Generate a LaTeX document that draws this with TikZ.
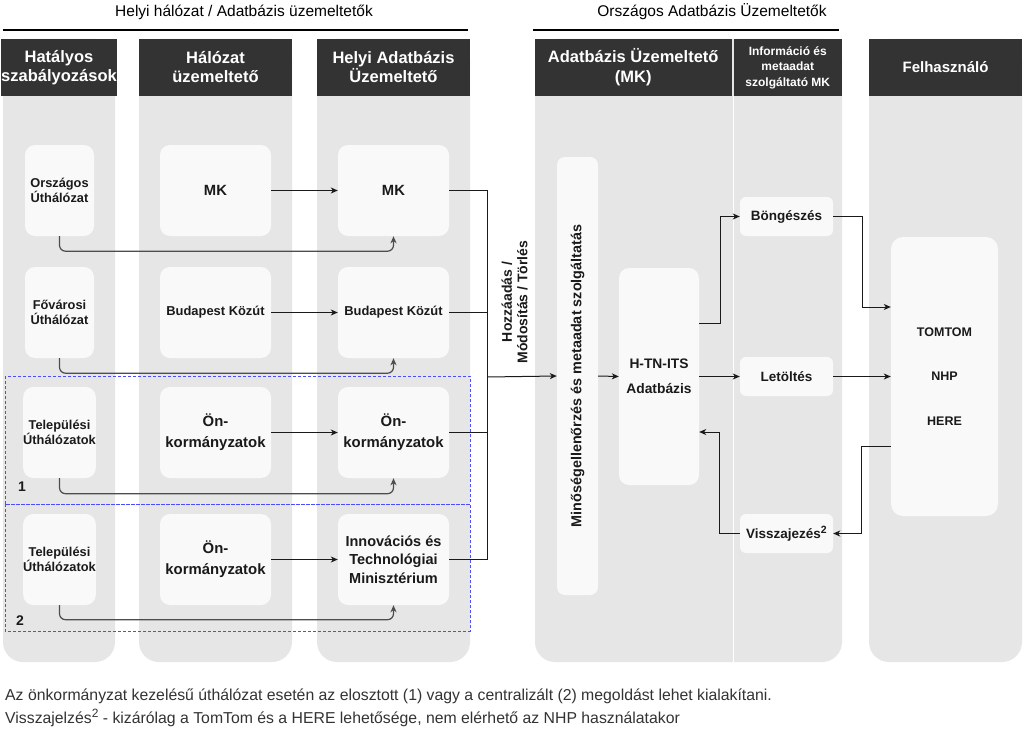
\documentclass[tikz,border=0pt]{standalone}
\usepackage{fontspec}
\setmainfont{Liberation Sans}
\usetikzlibrary{arrows.meta,calc}
\definecolor{lanebg}{HTML}{E6E6E6}
\definecolor{hdr}{HTML}{333333}
\definecolor{boxbg}{HTML}{F9F9F9}
\definecolor{txt}{HTML}{1A1A1A}
\definecolor{curvcol}{HTML}{4D4D4D}
\definecolor{grpblue}{HTML}{4D4DFF}
\newcommand{\fsz}[2]{\fontsize{#1}{#2}\selectfont}
\newcommand{\supnum}[2]{\raisebox{#2}{\fontsize{#1}{#1}\selectfont 2}}
\begin{document}
\begin{tikzpicture}[x=1pt,y=-1pt,
 lane/.style={fill=lanebg, rounded corners=20pt},
 hdrbox/.style={fill=hdr, text=white, align=center, inner sep=0},
 box/.style={fill=boxbg, rounded corners=10pt, inner sep=0, align=center, text=txt},
 sbox/.style={fill=boxbg, rounded corners=6pt, inner sep=0, align=center, text=txt},
 arr/.style={draw=txt, line width=1pt, -{Stealth[length=7pt,width=6pt,inset=2pt]}},
 ln/.style={draw=txt, line width=1pt},
 curv/.style={draw=curvcol, line width=1.2pt, rounded corners=6pt, -{Stealth[length=7pt,width=6pt,inset=2pt]}},
 grp/.style={draw=grpblue, dash pattern=on 3pt off 2pt, line width=1pt},
 ttl/.style={text=txt, inner sep=0},
]
\useasboundingbox (0,0) rectangle (1024,733);
\fill[white] (0,0) rectangle (1024,733);

% titles
\node[ttl, text=black, font=\fsz{15.5}{18}] (t1) at (244,12) {Helyi hálózat / Adatbázis üzemeltetők};
\node[ttl, text=black, font=\fsz{15.5}{18}] (t2) at (712,12) {Országos Adatbázis Üzemeltetők};
\draw[line width=2pt, black] (3,30) -- (468,30);
\draw[line width=2pt, black] (533,30) -- (839,30);

% lanes
\fill[lane] (3,39) rectangle (115,662);
\fill[lane] (139,39) rectangle (292,662);
\fill[lane] (317,39) rectangle (470,662);
\fill[lane] (535,39) rectangle (842,662);
\fill[lane] (869,39) rectangle (1022,662);
\draw[white, line width=1.2pt] (733.5,96) -- (733.5,662);

% headers
\node[hdrbox, minimum width=112, minimum height=57, font=\bfseries\fsz{16.5}{19}] (h1) at (59,67.5) {Hatályos\\szabályozások};
\node[hdrbox, minimum width=153, minimum height=57, font=\bfseries\fsz{16.5}{19}] (h2) at (215.5,67.5) {Hálózat\\üzemeltető};
\node[hdrbox, minimum width=153, minimum height=57, font=\bfseries\fsz{16.5}{19}] (h3) at (393.5,67.5) {Helyi Adatbázis\\Üzemeltető};
\node[hdrbox, minimum width=197.5, minimum height=57, font=\bfseries\fsz{16.5}{20}] (h4) at (633.25,67.5) {Adatbázis Üzemeltető\\(MK)};
\node[hdrbox, minimum width=107.5, minimum height=57, font=\bfseries\fsz{12}{15.5}] (h5) at (787.75,67.5) {Információ és\\metaadat\\szolgáltató MK};
\node[hdrbox, minimum width=153, minimum height=57, font=\bfseries\fsz{15}{18}] (h6) at (945.5,67.5) {Felhasználó};

% group frames
\draw[grp] (5,376) rectangle (470,504);
\draw[grp] (5,504) rectangle (470,631);
\node[ttl, font=\bfseries\fsz{14}{16}] (n1) at (22,487) {1};
\node[ttl, font=\bfseries\fsz{14}{16}] (n2) at (20,621) {2};

% lane 1 boxes
\node[box, minimum width=69, minimum height=91, font=\bfseries\fsz{12.8}{15}] (ou) at (59.5,190.5) {Országos\\Úthálózat};
\node[box, minimum width=69, minimum height=91, font=\bfseries\fsz{12.8}{15}] (fu) at (59.5,312.5) {Fővárosi\\Úthálózat};
\node[box, minimum width=69, minimum height=91, font=\bfseries\fsz{12.8}{15}] (tu1) at (59.5,432.5) {Települési\\Úthálózatok};
\node[box, minimum width=69, minimum height=91, font=\bfseries\fsz{12.8}{15}] (tu2) at (59.5,559.5) {Települési\\Úthálózatok};

% lane 2 boxes
\node[box, minimum width=111, minimum height=91, font=\bfseries\fsz{14.8}{18}] (mk1) at (215.5,190.5) {MK};
\node[box, minimum width=111, minimum height=91, font=\bfseries\fsz{12.9}{15}] (bk1) at (215.5,312.5) {Budapest Közút};
\node[box, minimum width=111, minimum height=91, font=\bfseries\fsz{14.9}{21}] (on1) at (215.5,432.5) {Ön-\\kormányzatok};
\node[box, minimum width=111, minimum height=91, font=\bfseries\fsz{14.9}{21}] (on3) at (215.5,559.5) {Ön-\\kormányzatok};

% lane 3 boxes
\node[box, minimum width=111, minimum height=91, font=\bfseries\fsz{14.8}{18}] (mk2) at (393.5,190.5) {MK};
\node[box, minimum width=111, minimum height=91, font=\bfseries\fsz{12.9}{15}] (bk2) at (393.5,312.5) {Budapest Közút};
\node[box, minimum width=111, minimum height=91, font=\bfseries\fsz{14.9}{21}] (on2) at (393.5,432.5) {Ön-\\kormányzatok};
\node[box, minimum width=111, minimum height=91, font=\bfseries\fsz{14.5}{18.5}] (itm) at (393.5,559.5) {Innovációs és\\Technológiai\\Minisztérium};

% lane 2 -> lane 3
\draw[arr] (mk1) -- (mk2);
\draw[arr] (bk1) -- (bk2);
\draw[arr] (on1) -- (on2);
\draw[arr] (on3) -- (itm);

% lane 1 -> lane 3 curved
\draw[curv] (ou.south) -- ++(0,15) -| (mk2.south);
\draw[curv] (fu.south) -- ++(0,15) -| (bk2.south);
\draw[curv] (tu1.south) -- ++(0,15.5) -| (on2.south);
\draw[curv] (tu2.south) -- ++(0,14.5) -| (itm.south);

% national lane boxes
\node[box, rounded corners=8pt, minimum width=41, minimum height=438] (mq) at (577.5,376) {};
\node[ttl, rotate=90, font=\bfseries\fsz{14.4}{17}] (mqt) at (mq.center) {Minőségellenőrzés és metaadat szolgáltatás};
\node[box, minimum width=80, minimum height=217, font=\bfseries\fsz{13.8}{25}] (htn) at (659,376.5) {H-TN-ITS\\Adatbázis};
\node[sbox, minimum width=93, minimum height=39, font=\bfseries\fsz{13.5}{16}] (bro) at (786.5,216.5) {Böngészés};
\node[sbox, minimum width=93, minimum height=39, font=\bfseries\fsz{13.5}{16}] (let) at (786.5,376.5) {Letöltés};
\node[sbox, minimum width=93, minimum height=39, font=\bfseries\fsz{13.5}{16}] (vis) at (786.5,533.5) {Visszajezés\supnum{10.5}{5pt}};
\node[box, rounded corners=12pt, minimum width=107, minimum height=279, font=\bfseries\fsz{12.5}{44.5}] (tt) at (944.5,376.5) {TOMTOM\\NHP\\HERE};

% junction from local to national
\coordinate (j) at (487,377);
\draw[ln] (mk2.east) -| (j);
\draw[ln] (bk2.east) -| (j);
\draw[ln] (on2.east) -| (j);
\draw[ln] (itm.east) -| (j);
\draw[arr] (j) -- (mq.west);
\node[ttl, rotate=90, align=center, font=\bfseries\fsz{14}{15.5}] (lbl) at (514.5,302) {Hozzáadás /\\Módosítás / Törlés};

\draw[arr] (mq.east) -- (htn.west);
\draw[arr] ([yshift=53.5pt]htn.east) -- ++(21,0) |- (bro.west);
\draw[arr] (htn.east) -- (let.west);
\draw[arr] (vis.west) -- ++(-20,0) |- ([yshift=-55.5pt]htn.east);
\draw[arr] (bro.east) -- ++(29,0) |- ([yshift=69.5pt]tt.west);
\draw[arr] (let.east) -- (tt.west);
\draw[arr] ([yshift=-69.5pt]tt.west) -- ++(-29,0) |- (vis.east);

% footnotes
\node[ttl, anchor=base west, text=hdr, font=\fsz{15.8}{18}] (f1) at (5,700.5) {Az önkormányzat kezelésű úthálózat esetén az elosztott (1) vagy a centralizált (2) megoldást lehet kialakítani.};
\node[ttl, anchor=base west, text=hdr, font=\fsz{15.8}{18}] (f2) at (5,723.5) {Visszajelzés\supnum{12}{6pt} - kizárólag a TomTom és a HERE lehetősége, nem elérhető az NHP használatakor};
\end{tikzpicture}
\end{document}
